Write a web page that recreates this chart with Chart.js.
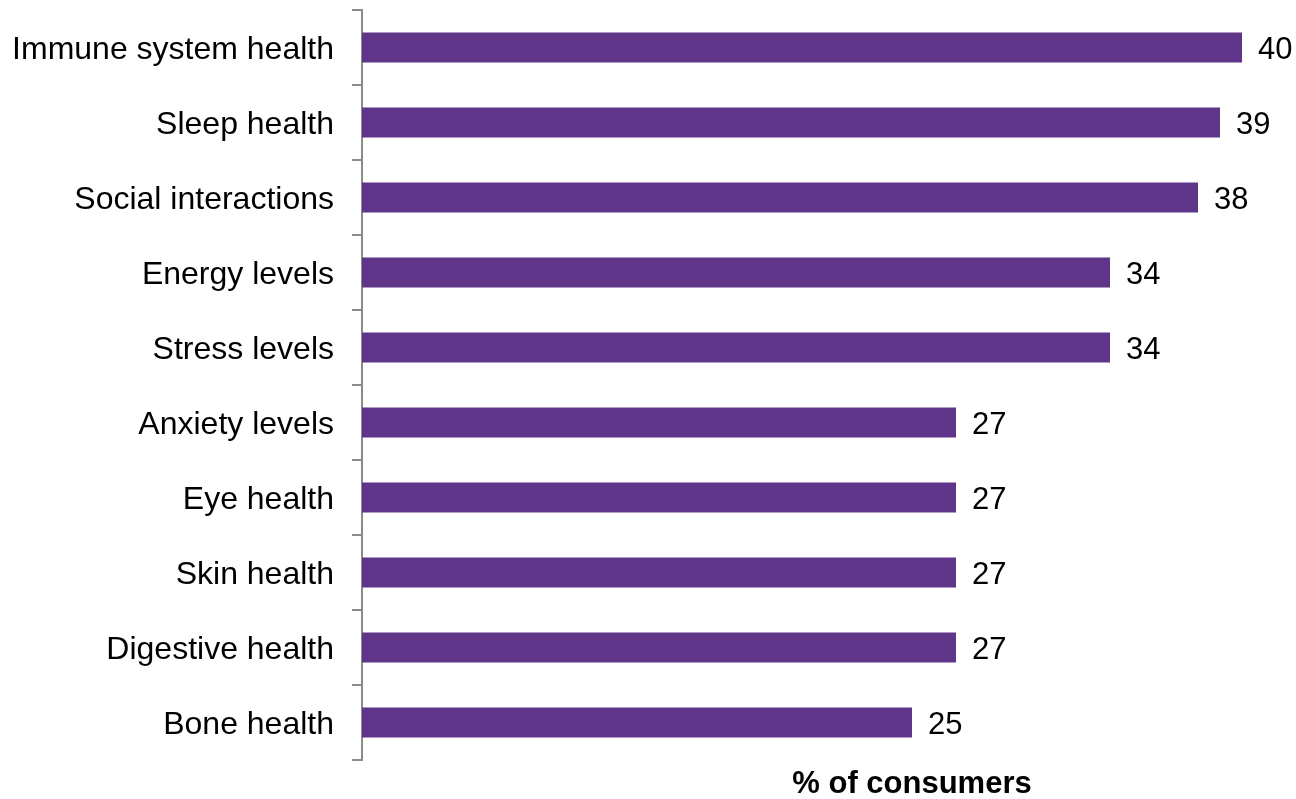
<!DOCTYPE html>
<html>
<head>
<meta charset="utf-8">
<script src="https://cdn.jsdelivr.net/npm/chart.js@4/dist/chart.umd.min.js"></script>
<style>
  html, body { margin: 0; padding: 0; background: #fff; }
  #wrap { width: 1296px; height: 799px; }
</style>
</head>
<body>
<div id="wrap"><canvas id="benefitChart" width="1296" height="799"></canvas></div>
<script>
const categories = [
  'Immune system health', 'Sleep health', 'Social interactions', 'Energy levels',
  'Stress levels', 'Anxiety levels', 'Eye health', 'Skin health',
  'Digestive health', 'Bone health'
];
const shares = [40, 39, 38, 34, 34, 27, 27, 27, 27, 25];
const axisTitle = '% of consumers';
const titleAt = 25; // x value the axis title is centred on

const FONT = '"Liberation Sans", Arial, sans-serif';
const TEXT_SIZE = 31;

// value labels just past the end of each bar
const barLabels = {
  id: 'barLabels',
  afterDatasetsDraw(chart) {
    const { ctx } = chart;
    const meta = chart.getDatasetMeta(0);
    ctx.save();
    ctx.font = TEXT_SIZE + 'px ' + FONT;
    ctx.fillStyle = '#000';
    ctx.textAlign = 'left';
    ctx.textBaseline = 'middle';
    meta.data.forEach((bar, i) => {
      ctx.fillText(String(shares[i]), bar.x + 16, bar.y + 3);
    });
    ctx.restore();
  }
};

// bold axis title under the plot
const xTitle = {
  id: 'xTitle',
  afterDraw(chart) {
    const { ctx, scales } = chart;
    ctx.save();
    ctx.font = 'bold ' + TEXT_SIZE + 'px ' + FONT;
    ctx.fillStyle = '#000';
    ctx.textAlign = 'center';
    ctx.textBaseline = 'middle';
    ctx.fillText(axisTitle, scales.x.getPixelForValue(titleAt), chart.chartArea.bottom + 24);
    ctx.restore();
  }
};

new Chart(document.getElementById('benefitChart'), {
  type: 'bar',
  data: {
    labels: categories,
    datasets: [{
      data: shares,
      backgroundColor: '#5f3589',
      borderWidth: 0,
      categoryPercentage: 1,
      barPercentage: 0.4
    }]
  },
  options: {
    indexAxis: 'y',
    responsive: false,
    animation: false,
    layout: { padding: { left: 0, right: 54, top: 10, bottom: 39 } },
    scales: {
      x: {
        display: false,
        min: 0,
        max: 40
      },
      y: {
        afterFit(scale) {
          scale.width = 362;
          // the first/last labels sit inside their bands, no extra room needed
          scale.paddingTop = 0;
          scale.paddingBottom = 0;
        },
        grid: {
          offset: true,
          drawOnChartArea: false,
          tickLength: 10,
          color: '#8c8c8c',
          lineWidth: 2
        },
        border: { color: '#8c8c8c', width: 2 },
        ticks: {
          padding: 18,
          labelOffset: 3,
          color: '#000',
          font: { family: FONT, size: 32 }
        }
      }
    },
    plugins: {
      legend: { display: false },
      tooltip: { enabled: false }
    }
  },
  plugins: [barLabels, xTitle]
});
</script>
</body>
</html>
